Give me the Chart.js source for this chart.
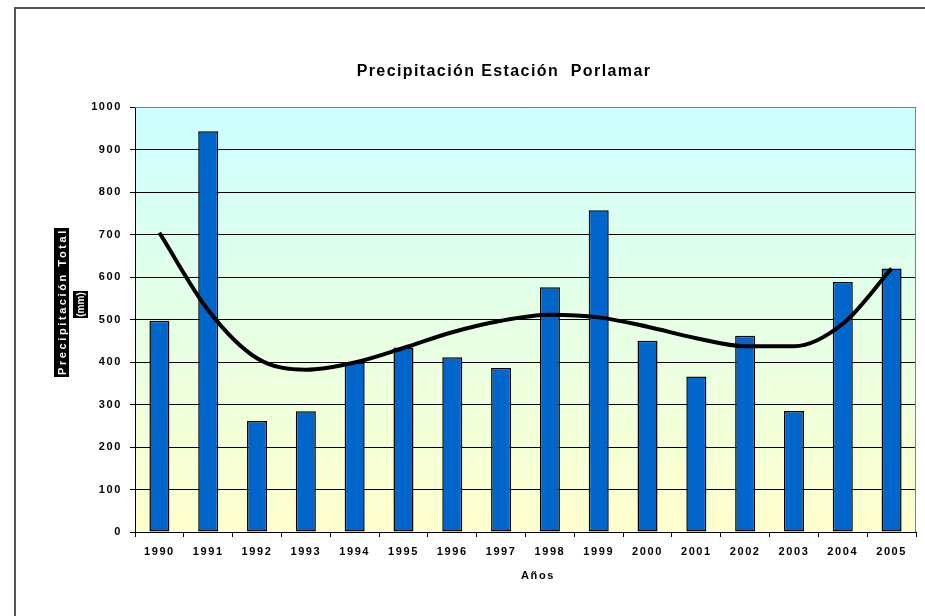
<!DOCTYPE html>
<html>
<head>
<meta charset="utf-8">
<script src="https://cdn.jsdelivr.net/npm/chart.js@4/dist/chart.umd.min.js"></script>
<style>
html,body{margin:0;padding:0;background:#fff;}
#wrap{width:925px;height:616px;position:relative;}
</style>
</head>
<body>
<div id="wrap"><canvas id="c" width="925" height="616"></canvas></div>
<script>
const years = ['1990','1991','1992','1993','1994','1995','1996','1997','1998','1999','2000','2001','2002','2003','2004','2005'];
const precipitation = [497, 943, 261, 284, 399, 434, 411, 386, 576, 757, 450, 366, 462, 285, 588, 620];
const trend = [704, 522, 409, 382, 399, 433, 470, 497, 511, 505, 483, 456, 437, 437, 490, 620];
const yTicks = [0, 100, 200, 300, 400, 500, 600, 700, 800, 900, 1000];
const chartTitle = 'Precipitación Estación  Porlamar';
const xTitle = 'Años';
const yTitle = 'Precipitación Total';
const yUnit = '(mm)';

const FONT = '"Liberation Sans", Arial, sans-serif';

const decor = {
  id: 'decor',
  beforeLayout(chart) { chart.ctx.letterSpacing = '1.6px'; },
  beforeDraw(chart) {
    const ctx = chart.ctx, a = chart.chartArea;
    ctx.save();
    ctx.fillStyle = '#fff';
    ctx.fillRect(0, 0, chart.width, chart.height);
    const g = ctx.createLinearGradient(0, a.top, 0, a.bottom);
    g.addColorStop(0, '#CCFFFF');
    g.addColorStop(1, '#FFFFCC');
    ctx.fillStyle = g;
    ctx.fillRect(a.left, a.top, a.right - a.left, a.bottom - a.top);
    ctx.strokeStyle = '#555';
    ctx.lineWidth = 2;
    ctx.beginPath();
    ctx.moveTo(15, 616);
    ctx.lineTo(15, 8);
    ctx.lineTo(925, 8);
    ctx.stroke();
    ctx.restore();
    ctx.letterSpacing = '1.6px';
  },
  afterDraw(chart) {
    const ctx = chart.ctx, a = chart.chartArea;
    ctx.save();
    ctx.strokeStyle = '#808080';
    ctx.lineWidth = 1;
    ctx.beginPath();
    ctx.moveTo(a.left, a.top + 0.5);
    ctx.lineTo(a.right - 0.5, a.top + 0.5);
    ctx.lineTo(a.right - 0.5, a.bottom);
    ctx.stroke();
    ctx.fillStyle = '#000';
    ctx.textAlign = 'center';
    ctx.textBaseline = 'middle';
    ctx.letterSpacing = '1.4px';
    ctx.font = 'bold 16px ' + FONT;
    ctx.fillText(chartTitle, 504, 72);
    ctx.letterSpacing = '1.6px';
    ctx.font = 'bold 11px ' + FONT;
    ctx.fillText(xTitle, 538, 576);
    ctx.fillStyle = '#000';
    ctx.fillRect(54, 228, 15, 149);
    ctx.fillRect(73, 291, 15, 27);
    ctx.translate(61.5, 302.5);
    ctx.rotate(-Math.PI / 2);
    ctx.fillStyle = '#fff';
    ctx.letterSpacing = '2.6px';
    ctx.font = 'bold 11px ' + FONT;
    ctx.fillText(yTitle, 1, 1);
    ctx.rotate(Math.PI / 2);
    ctx.translate(19, 2);
    ctx.rotate(-Math.PI / 2);
    ctx.letterSpacing = '0px';
    ctx.font = 'bold 10px ' + FONT;
    ctx.fillText(yUnit, 0, 1);
    ctx.restore();
  }
};

new Chart(document.getElementById('c'), {
  data: {
    labels: years,
    datasets: [
      {
        type: 'line',
        data: trend,
        borderColor: '#000',
        borderWidth: 4,
        pointRadius: 0,
        cubicInterpolationMode: 'monotone',
        fill: false,
        order: 0
      },
      {
        type: 'bar',
        data: precipitation,
        backgroundColor: '#0066CC',
        borderColor: '#000',
        borderWidth: 1.5,
        borderSkipped: false,
        barPercentage: 0.41,
        categoryPercentage: 1,
        order: 1
      }
    ]
  },
  options: {
    responsive: false,
    animation: false,
    devicePixelRatio: 1,
    layout: { padding: { left: 0, right: 9, top: 107, bottom: 0 } },
    plugins: { legend: { display: false }, tooltip: { enabled: false }, title: { display: false } },
    scales: {
      x: {
        type: 'category',
        offset: true,
        afterFit(s) { s.height = 84; },
        grid: { display: true, drawOnChartArea: false, offset: true, tickLength: 5, color: '#000', lineWidth: 1 },
        border: { color: '#000', width: 1 },
        ticks: { color: '#000', font: { family: FONT, size: 11, weight: 'bold' }, padding: 8, maxRotation: 0, autoSkip: false }
      },
      y: {
        min: 0,
        max: 1000,
        afterFit(s) { s.width = 135; },
        afterBuildTicks(s) { s.ticks = yTicks.map(v => ({ value: v })); },
        grid: { color: '#000', lineWidth: 1, tickLength: 5 },
        border: { color: '#000', width: 1 },
        ticks: { color: '#000', font: { family: FONT, size: 11, weight: 'bold' }, padding: 8, callback: v => String(v) }
      }
    }
  },
  plugins: [decor]
});
</script>
</body>
</html>
